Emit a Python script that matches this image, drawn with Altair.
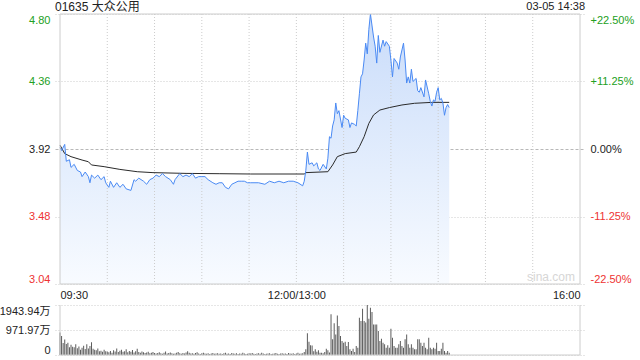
import altair as alt
import pandas as pd

# ---------------- data ----------------
title_code = "01635 大众公用"
stamp = "03-05 14:38"
watermark = "sina.com"

prev_close = 3.92
price_ticks = [4.80, 4.36, 3.92, 3.48, 3.04]
pct_labels = ["+22.50%", "+11.25%", "0.00%", "-11.25%", "-22.50%"]
time_ticks = [0, 150, 330]
time_labels = ["09:30", "12:00/13:00", "16:00"]
grid_minutes = [30, 60, 90, 120, 150, 180, 210, 240, 270, 300]
vol_ticks = [0, 971.97, 1943.94]
vol_labels = ["0", "971.97万", "1943.94万"]

price_min = [0, 1, 3, 4, 6, 7, 9, 11, 13, 14, 16, 18, 19, 20, 22, 24, 26, 28, 29, 31,
             32, 34, 36, 38, 40, 42, 45, 47, 48, 50, 53, 55, 57, 59, 61, 63, 65, 67, 70, 72,
             73, 76, 78, 80, 82, 84, 86, 88, 90, 92, 94, 97, 99, 101, 103, 105, 107, 109, 111, 113,
             115, 117, 119, 121, 126, 130, 133, 136, 139, 142, 145, 148, 151, 154, 155, 156, 157, 158, 160, 161,
             163, 164, 165, 167, 169, 170, 171, 172, 173, 174, 175, 176, 177, 179, 180, 181, 183, 184, 185, 187,
             188, 189, 190, 191, 192, 193, 194, 195, 196, 197, 199, 200, 201, 202, 203, 205, 206, 207, 209, 210,
             211, 212, 214, 215, 216, 218, 219, 220, 221, 222, 223, 224, 226, 227, 228, 229, 231, 232, 234, 235,
             236, 237, 238, 239, 240, 241, 242, 243, 244, 245, 246, 247]
price_val = [3.93, 3.91, 3.95, 3.84, 3.85, 3.80, 3.82, 3.78, 3.77, 3.74, 3.77, 3.74, 3.70, 3.75, 3.73, 3.75, 3.72, 3.74, 3.70, 3.67,
             3.71, 3.67, 3.70, 3.67, 3.69, 3.66, 3.65, 3.72, 3.71, 3.73, 3.71, 3.69, 3.72, 3.73, 3.75, 3.74, 3.76, 3.74, 3.72, 3.69,
             3.72, 3.76, 3.74, 3.75, 3.74, 3.76, 3.73, 3.74, 3.74, 3.74, 3.72, 3.70, 3.69, 3.70, 3.70, 3.67, 3.66, 3.69, 3.70, 3.71,
             3.71, 3.71, 3.70, 3.70, 3.70, 3.69, 3.71, 3.70, 3.71, 3.70, 3.71, 3.71, 3.70, 3.68, 3.71, 3.78, 3.90, 3.82, 3.83, 3.81,
             3.83, 3.79, 3.78, 3.82, 3.79, 3.86, 4.00, 3.99, 4.07, 4.11, 4.22, 4.15, 4.17, 4.06, 4.14, 4.12, 4.11, 4.06, 4.09, 4.08,
             4.07, 4.17, 4.28, 4.39, 4.41, 4.50, 4.61, 4.54, 4.70, 4.80, 4.65, 4.59, 4.48, 4.66, 4.55, 4.63, 4.59, 4.62, 4.59, 4.50,
             4.39, 4.51, 4.48, 4.44, 4.52, 4.61, 4.50, 4.35, 4.39, 4.35, 4.44, 4.36, 4.38, 4.30, 4.29, 4.32, 4.26, 4.37, 4.28, 4.23,
             4.20, 4.24, 4.23, 4.29, 4.32, 4.24, 4.25, 4.22, 4.14, 4.19, 4.21, 4.19]

avg_min = [0, 3, 7, 14, 18, 20, 28, 38, 49, 59, 80, 101, 121, 155, 156, 170, 173, 176, 181, 188,
           190, 193, 196, 199, 203, 209, 217, 225, 236, 247]
avg_val = [3.945, 3.89, 3.87, 3.848, 3.837, 3.816, 3.805, 3.787, 3.772, 3.766, 3.761, 3.759, 3.757, 3.757, 3.766,
           3.772, 3.816, 3.87, 3.89, 3.90, 3.935, 4.0, 4.087, 4.142, 4.174, 4.19, 4.207, 4.218, 4.224, 4.224]

# volume per minute, in 万 shares (minute 0 .. 247)
volume = [
    870, 740, 470, 600, 430, 480, 300, 400, 320, 300,
    420, 260, 330, 200, 280, 360, 230, 420, 250, 350,
    500, 240, 200, 180, 250, 150, 170, 130, 200, 150,
    140, 110, 160, 90, 180, 140, 250, 120, 170, 200,
    130, 150, 220, 110, 160, 130, 190, 100, 150, 240,
    120, 90, 140, 110, 80, 100, 130, 70, 90, 120,
    80, 60, 80, 110, 70, 50, 90, 140, 60, 80,
    100, 70, 50, 60, 90, 120, 70, 50, 80, 60,
    100, 150, 90, 60, 70, 50, 80, 110, 60, 40,
    70, 90, 60, 50, 70, 40, 60, 80, 50, 60,
    70, 50, 60, 40, 70, 90, 50, 60, 40, 80,
    60, 50, 70, 40, 60, 50, 90, 60, 40, 50,
    70, 60, 80, 50, 40, 60, 70, 50, 90, 60,
    40, 50, 60, 70, 40, 50, 60, 80, 50, 40,
    60, 70, 50, 60, 40, 80, 60, 50, 70, 40,
    60, 90, 50, 60, 70, 120, 220, 843, 520, 380,
    370, 150, 220, 130, 180, 90, 90, 65, 115, 245,
    180, 100, 1580, 610, 1230, 800, 1540, 1130, 740, 545,
    480, 520, 350, 505, 220, 155, 245, 120, 350, 280,
    1450, 1320, 1800, 1320, 1260, 1943.94, 1410, 1840, 1670, 1190,
    1190, 1190, 930, 545, 635, 480, 415, 285, 375, 285,
    1020, 675, 350, 285, 285, 415, 545, 350, 285, 610,
    800, 415, 285, 415, 285, 220, 220, 610, 610, 480,
    350, 480, 285, 220, 675, 285, 220, 285, 245, 480,
    155, 155, 245, 480, 155, 90, 155, 90,
]

# ---------------- styling ----------------
FONT = "Liberation Sans, Arial, Noto Sans CJK SC"
GREEN = "#22a022"
RED = "#ee3333"
GRID = "#cccccc"
FRAME = "#cccccc"

p_lo, p_hi = min(price_ticks), max(price_ticks)
t_lo, t_hi = min(time_ticks), max(time_ticks)
v_hi = max(vol_ticks)

W, H = 530, 341
PRICE_H = 270
VOL_TOP = 291

price_df = pd.DataFrame({"t": price_min, "price": price_val})
avg_df = pd.DataFrame({"t": avg_min, "avg": avg_val})
vol_df = pd.DataFrame({"t": list(range(len(volume))), "vol": volume})
one = pd.DataFrame({"k": [0]})


def nested_expr(values, labels, default="''"):
    expr = default
    for v, lab in zip(values[::-1], labels[::-1]):
        expr = f"abs(datum.value - {v}) < 0.001 ? '{lab}' : ({expr})"
    return expr


label_color = {
    "condition": [
        {"test": f"datum.value > {prev_close + 0.005}", "value": GREEN},
        {"test": f"datum.value < {prev_close - 0.005}", "value": RED},
    ],
    "value": "#222222",
}

xscale = alt.Scale(domain=[t_lo, t_hi], nice=False, zero=False)
x_axis = alt.Axis(
    values=time_ticks,
    labelExpr=nested_expr(time_ticks, time_labels),
    labelFlush=False,
    labelAlign={
        "condition": [
            {"test": f"datum.value <= {t_lo}", "value": "left"},
            {"test": f"datum.value >= {t_hi}", "value": "right"},
        ],
        "value": "center",
    },
    grid=False,
    ticks=False,
    domain=False,
    title=None,
    offset=-(H - PRICE_H),
    labelPadding=5,
    labelColor="#222222",
    labelFontSize=11,
)
X = alt.X("t:Q", scale=xscale, axis=x_axis)

yscale = alt.Scale(domain=[p_lo, p_hi], range=[PRICE_H, 0], nice=False, zero=False)
price_axis = alt.Axis(
    values=price_ticks,
    format=".2f",
    orient="left",
    labelFlush=True,
    grid=True,
    gridColor={"condition": {"test": f"abs(datum.value - {prev_close}) < 0.001", "value": "#b8b8b8"}, "value": GRID},
    gridDash={"condition": {"test": f"abs(datum.value - {prev_close}) < 0.001", "value": [3, 2]}, "value": [1, 2]},
    domain=False,
    ticks=False,
    labelPadding=5,
    labelColor=label_color,
    labelFontSize=11,
    title=None,
)

area = alt.Chart(price_df).mark_area(
    line=False,
    color=alt.LinearGradient(
        gradient="linear",
        stops=[alt.GradientStop(color="#c9dcfa", offset=0), alt.GradientStop(color="#f8fbff", offset=1)],
        x1=0, x2=0, y1=0, y2=1,
    ),
).encode(x=X, y=alt.Y("price:Q", scale=yscale, axis=price_axis), y2=alt.datum(p_lo))

vgrid = alt.Chart(pd.DataFrame({"t": grid_minutes})).mark_rule(
    color=GRID, strokeDash=[1, 2], strokeWidth=1
).encode(x=X, y=alt.datum(p_hi), y2=alt.datum(p_lo))

line = alt.Chart(price_df).mark_line(color="#4a8af4", strokeWidth=1).encode(x=X, y="price:Q")
avg = alt.Chart(avg_df).mark_line(color="#2a2a2a", strokeWidth=1).encode(
    x=X, y=alt.Y("avg:Q"))

frame = alt.Chart(one).mark_rect(fillOpacity=0, stroke=FRAME, strokeWidth=1).encode(
    x=alt.datum(t_lo), x2=alt.datum(t_hi), y=alt.datum(p_hi), y2=alt.datum(p_lo))

wm = alt.Chart(pd.DataFrame({"s": [watermark]})).mark_text(
    align="right", baseline="middle", font=FONT, fontSize=12, color="#d6d6d6"
).encode(x=alt.value(W - 10), y=alt.value(PRICE_H - 7), text="s:N")

main = alt.layer(area, vgrid, avg, line, frame, wm)

# right-hand percentage axis on the same price range
pct_scale = alt.Scale(domain=[p_lo, p_hi], range=[PRICE_H, 0], nice=False, zero=False)
pct_axis = alt.Axis(
    values=price_ticks,
    labelExpr=nested_expr(price_ticks, pct_labels),
    orient="right",
    labelFlush=True,
    grid=False,
    domain=False,
    ticks=False,
    labelPadding=5,
    labelColor=label_color,
    labelFontSize=11,
    title=None,
)
pct = alt.Chart(pd.DataFrame({"price": price_ticks})).mark_point(opacity=0).encode(
    y=alt.Y("price:Q", scale=pct_scale, axis=pct_axis))

# volume panel
vscale = alt.Scale(domain=[0, v_hi], range=[H, VOL_TOP], nice=False, zero=True)
vol_axis = alt.Axis(
    values=vol_ticks,
    labelExpr=nested_expr(vol_ticks, vol_labels),
    orient="left",
    labelFlush=True,
    grid=True,
    gridColor=GRID,
    gridDash=[1, 2],
    domain=False,
    ticks=False,
    labelPadding=5,
    labelColor="#222222",
    labelFontSize=11,
    title=None,
)
bars = alt.Chart(vol_df).mark_bar(size=1, color="#5c5c5c").encode(
    x=X, y=alt.Y("vol:Q", scale=vscale, axis=vol_axis))
vleft = alt.Chart(one).mark_rule(color=FRAME).encode(x=alt.datum(t_lo), y=alt.datum(0), y2=alt.datum(v_hi))
vright = alt.Chart(one).mark_rule(color=FRAME).encode(x=alt.datum(t_hi), y=alt.datum(0), y2=alt.datum(v_hi))
vbottom = alt.Chart(one).mark_rule(color=FRAME).encode(x=alt.datum(t_lo), x2=alt.datum(t_hi), y=alt.datum(0))
vol = alt.layer(bars, vleft, vright, vbottom)

head = alt.Chart(pd.DataFrame({"s": [title_code]})).mark_text(
    align="left", baseline="middle", font=FONT, fontSize=12, color="#222222"
).encode(x=alt.value(0), y=alt.value(-7), text="s:N")
tstamp = alt.Chart(pd.DataFrame({"s": [stamp]})).mark_text(
    align="right", baseline="middle", font=FONT, fontSize=11, color="#222222"
).encode(x=alt.value(W), y=alt.value(-7), text="s:N")

chart = (
    alt.layer(main, pct, vol, head, tstamp)
    .resolve_scale(y="independent")
    .resolve_axis(y="independent")
    .properties(
        width=W,
        height=H,
        autosize=alt.AutoSizeParams(type="none"),
        padding={"left": 55, "top": 14, "right": 55, "bottom": 5},
    )
    .configure_view(stroke=None)
    .configure_axis(labelFont=FONT)
)

chart.save("out.html", embed_options={"renderer": "svg", "actions": False})
